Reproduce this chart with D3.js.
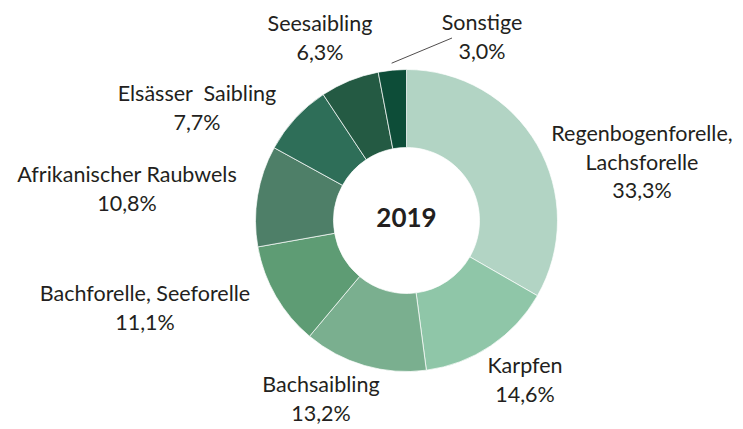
<!DOCTYPE html>
<html>
<head>
<meta charset="utf-8">
<script src="https://cdn.jsdelivr.net/npm/d3@7"></script>
<style>
  body { margin: 0; background: #fff; }
  text { font-family: Lato, "Open Sans", sans-serif; fill: #231f20; white-space: pre; }
</style>
</head>
<body>
<div id="chart"></div>
<script>
var width = 743;
var height = 429;

// data, clockwise from 12 o'clock
var species = ["Regenbogenforelle, Lachsforelle", "Karpfen", "Bachsaibling",
  "Bachforelle, Seeforelle", "Afrikanischer Raubwels", "Elsässer  Saibling",
  "Seesaibling", "Sonstige"];
var shares = [33.3, 14.6, 13.2, 11.1, 10.8, 7.7, 6.3, 3.0];
var colors = ["#b2d4c4", "#8fc6a8", "#7aaf8f", "#5e9c74", "#4e7f68", "#2e6e58", "#245a43", "#0d4d38"];
var year = "2019";

// label layout: lines of each label and where the block sits (x center, first baseline)
var labelLines = [
  ["Regenbogenforelle,", "Lachsforelle"],
  ["Karpfen"], ["Bachsaibling"], ["Bachforelle, Seeforelle"],
  ["Afrikanischer Raubwels"], ["Elsässer  Saibling"], ["Seesaibling"], ["Sonstige"]
];
var labelPos = [[642, 141], [525, 373], [321, 392], [145, 301], [127, 182], [197, 101], [320, 31], [482, 30]];

var cx = 406.5, cy = 220.5, outerR = 151, innerR = 73;
var lineH = 28.5;

function createCanvas(select, w, h) {
  return d3.select(select).append("svg").attr("width", w).attr("height", h);
}
var svg = createCanvas("#chart", width, height);

var pie = d3.pie().sort(null).value(function (d) { return d; });
var arcs = pie(shares);
var arc = d3.arc().innerRadius(innerR).outerRadius(outerR);

var g = svg.append("g").attr("transform", "translate(" + cx + "," + cy + ")");

g.selectAll("path")
  .data(arcs)
  .join("path")
  .attr("d", arc)
  .attr("fill", function (d, i) { return colors[i]; })
  .attr("stroke", "#fff")
  .attr("stroke-width", 0.7);

g.append("text")
  .attr("text-anchor", "middle")
  .attr("y", 6)
  .style("font-size", "26px")
  .style("font-weight", "bold")
  .text(year);

var fmt = function (v) { return v.toFixed(1).replace(".", ",") + "%"; };

var labels = svg.selectAll(".lbl")
  .data(arcs)
  .join("text")
  .attr("class", "lbl")
  .attr("text-anchor", "middle")
  .style("font-size", "21.5px");

labels.each(function (d, i) {
  var t = d3.select(this);
  var lines = labelLines[i].concat([fmt(shares[i])]);
  lines.forEach(function (s, k) {
    t.append("tspan")
      .attr("x", labelPos[i][0])
      .attr("y", labelPos[i][1] + k * lineH)
      .text(s);
  });
});

// leader line for the small "Sonstige" slice
var last = arcs[arcs.length - 1];
var ang = (last.startAngle + last.endAngle) / 2;
var r0 = outerR + 7;
svg.append("line")
  .attr("x1", cx + r0 * Math.sin(ang))
  .attr("y1", cy - r0 * Math.cos(ang))
  .attr("x2", labelPos[7][0] - 30)
  .attr("y2", labelPos[7][1] + 8)
  .attr("stroke", "#231f20")
  .attr("stroke-width", 0.8);
</script>
</body>
</html>
